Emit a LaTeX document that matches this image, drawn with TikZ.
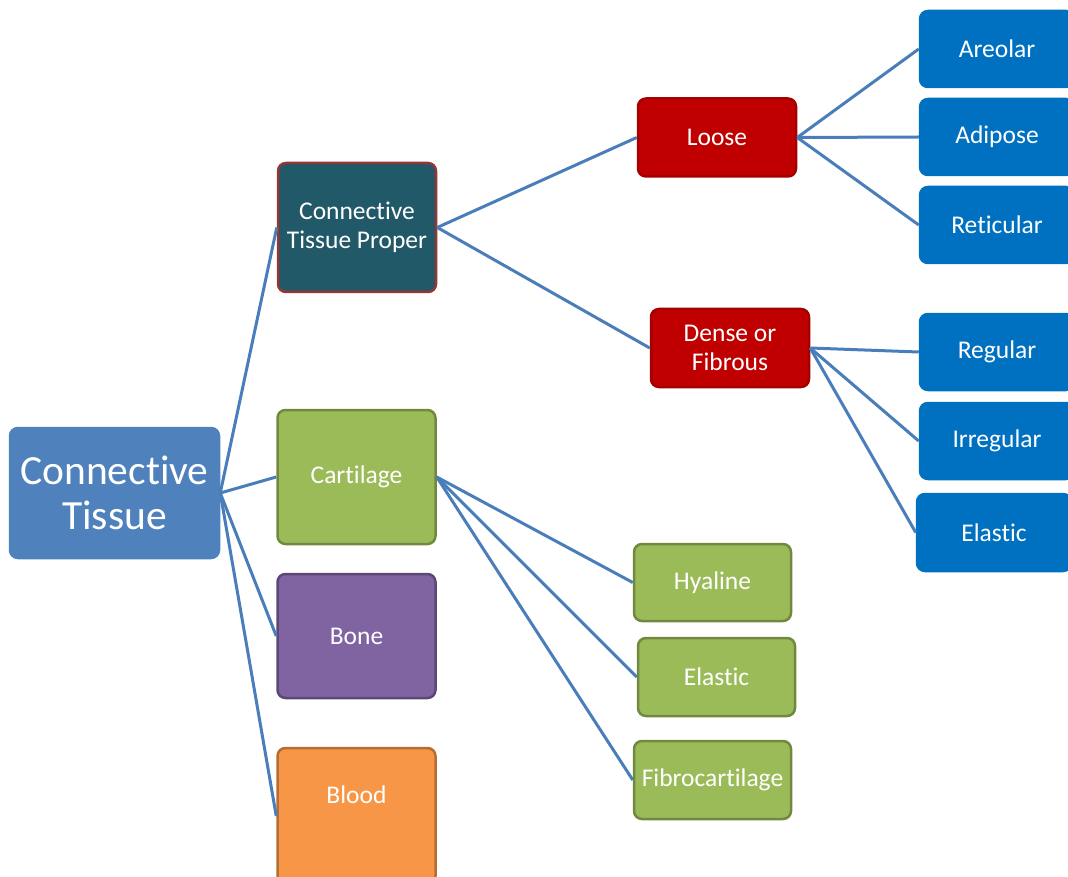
\documentclass[tikz,border=0pt]{standalone}
\usepackage{fontspec}
\setmainfont{Carlito}[Ligatures=NoCommon]
\usetikzlibrary{positioning}

\definecolor{rootblue}{HTML}{4F81BD}
\definecolor{linkblue}{HTML}{4A7EBB}
\definecolor{teal}{HTML}{215968}
\definecolor{tealedge}{HTML}{943634}
\definecolor{leaf}{HTML}{9BBB59}
\definecolor{leafedge}{HTML}{71893F}
\definecolor{plum}{HTML}{8064A2}
\definecolor{plumedge}{HTML}{5C4776}
\definecolor{amber}{HTML}{F79646}
\definecolor{amberedge}{HTML}{B66D31}
\definecolor{crimson}{HTML}{C00000}
\definecolor{crimsonedge}{HTML}{A50000}
\definecolor{ocean}{HTML}{0070C0}

\tikzset{
  box/.style={rectangle, rounded corners=8pt, line width=2.5pt, inner sep=0pt,
    minimum width=158pt, align=center, text=white,
    font=\fontsize{25.5}{29}\selectfont},
  rootbox/.style={box, fill=rootblue, draw=rootblue, minimum width=209pt,
    minimum height=130pt, font=\fontsize{41.5}{45}\selectfont},
  properbox/.style={box, fill=teal, draw=tealedge},
  greenbox/.style={box, fill=leaf, draw=leafedge},
  purplebox/.style={box, fill=plum, draw=plumedge},
  orangebox/.style={box, fill=amber, draw=amberedge},
  redbox/.style={box, fill=crimson, draw=crimsonedge, minimum height=78pt},
  bluebox/.style={box, fill=ocean, draw=ocean, minimum width=154pt, minimum height=76pt},
  link/.style={draw=linkblue, line width=3pt}
}

\begin{document}
\begin{tikzpicture}[x=1pt, y=-1pt]
    \useasboundingbox (0,0) rectangle (1068,877);

    %%%% Root and first level =========================
    \node[rootbox] (ct) at (114.5, 493) {Connective\\Tissue};
    \node[properbox, minimum height=129pt] (ctp) at (357, 227.5) {Connective\\Tissue Proper};
    \node[greenbox, minimum height=134pt] (cart) at (356.5, 477) {Cartilage};
    \node[purplebox, minimum height=124pt] (bone) at (356.5, 636) {Bone};
    \node[orangebox, minimum height=136pt,
      label={[text=white, font=\fontsize{25.5}{29}\selectfont, yshift=21pt]center:Blood}] (blood) at (356.5, 816) {};

    %%%% Connective tissue proper =====================
    \node[redbox] (loose) at (717, 137.5) {Loose};
    \node[redbox] (dense) at (730, 348) {Dense or\\Fibrous};

    % Loose kinds
    \node[bluebox] (areolar) at (997, 49) {Areolar};
    \node[bluebox] (adipose) at (997, 137) {Adipose};
    \node[bluebox] (reticular) at (997, 225) {Reticular};

    % Dense kinds
    \node[bluebox] (regular) at (997, 352) {Regular};
    \node[bluebox] (irregular) at (997, 441) {Irregular};
    \node[bluebox, minimum height=77pt] (elasticd) at (994, 532.5) {Elastic};

    %%%% Cartilage kinds ==============================
    \node[greenbox, minimum width=157pt, minimum height=77pt] (hyaline) at (712.5, 582.5) {Hyaline};
    \node[greenbox, minimum width=157pt, minimum height=78pt] (elasticc) at (716.5, 677) {Elastic};
    \node[greenbox, minimum width=157pt, minimum height=78pt] (fibro) at (712.5, 780) {Fibrocartilage};

    %%%% Links ========================================
    \draw[link] (ct.east) -- (ctp.west);
    \draw[link] (ct.east) -- (cart.west);
    \draw[link] (ct.east) -- (bone.west);
    \draw[link] (ct.east) -- (blood.west);

    \draw[link] (ctp.east) -- (loose.west);
    \draw[link] (ctp.east) -- (dense.west);

    \draw[link] (loose.east) -- (areolar.west);
    \draw[link] (loose.east) -- (adipose.west);
    \draw[link] (loose.east) -- (reticular.west);

    \draw[link] (dense.east) -- (regular.west);
    \draw[link] (dense.east) -- (irregular.west);
    \draw[link] (dense.east) -- (elasticd.west);

    \draw[link] (cart.east) -- (hyaline.west);
    \draw[link] (cart.east) -- (elasticc.west);
    \draw[link] (cart.east) -- (fibro.west);
\end{tikzpicture}
\end{document}
